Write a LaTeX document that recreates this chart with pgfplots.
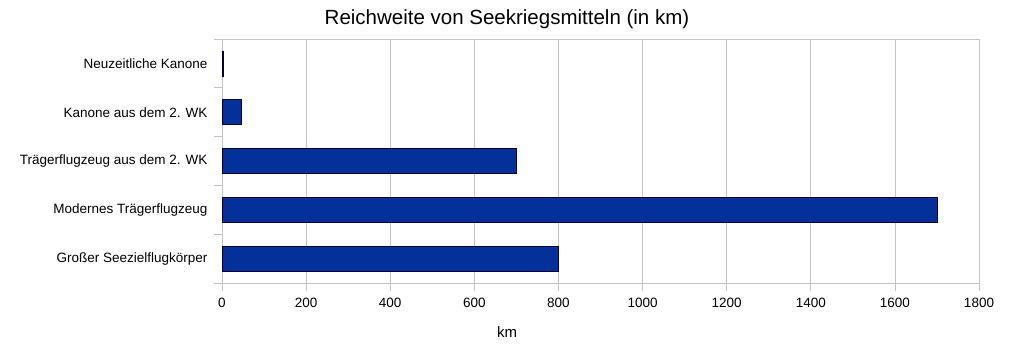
\documentclass[border=0pt]{standalone}
\usepackage{fontspec}
\setmainfont{Liberation Sans}
\usepackage{pgfplots}
\pgfplotsset{compat=1.18}
\definecolor{barblue}{RGB}{4,48,154}
\definecolor{gridgray}{RGB}{195,195,195}
\begin{document}
\begin{tikzpicture}[x=1pt,y=1pt]
\useasboundingbox (0,0) rectangle (1024,347);
\begin{axis}[
  at={(222pt,64pt)}, anchor=south west,
  scale only axis, width=757pt, height=244pt,
  xmin=0, xmax=1800, ymin=-0.5, ymax=4.5,
  xtick={0,200,...,1800},
  xtick pos=bottom, ytick pos=left,
  xmajorgrids, major grid style={gridgray, line width=0.8pt},
  axis line style={gridgray, line width=0.8pt},
  tick style={gridgray, line width=0.8pt},
  xtick align=outside, major tick length=8pt,
  ytick={-0.5,0.5,...,4.5}, yticklabels={},
  ytick align=outside,
  extra y ticks={0,1,2,3,4},
  extra y tick labels={Großer Seezielflugkörper, Modernes Trägerflugzeug, Trägerflugzeug aus dem 2. WK, Kanone aus dem 2. WK, Neuzeitliche Kanone},
  extra y tick style={major tick length=0pt, grid=none, ytick pos=left},
  yticklabel style={font=\fontsize{13.5}{14}\selectfont, xshift=-11pt},
  xticklabel style={font=\fontsize{13.5}{14}\selectfont, yshift=-4pt},
  /pgf/number format/assume math mode=true,
  /pgf/number format/1000 sep={},
  xbar, bar width=25pt,
  clip=false,
]
\addplot[fill=barblue, draw=black!80!blue, line width=0.6pt] coordinates {
  (800,0) (1700,1) (700,2) (45,3) (3,4)
};
\end{axis}
\node[font=\fontsize{20.5}{22}\selectfont] at (507,328) {Reichweite von Seekriegsmitteln (in km)};
\node[font=\fontsize{15}{16}\selectfont] at (507,15) {km};
\end{tikzpicture}
\end{document}
